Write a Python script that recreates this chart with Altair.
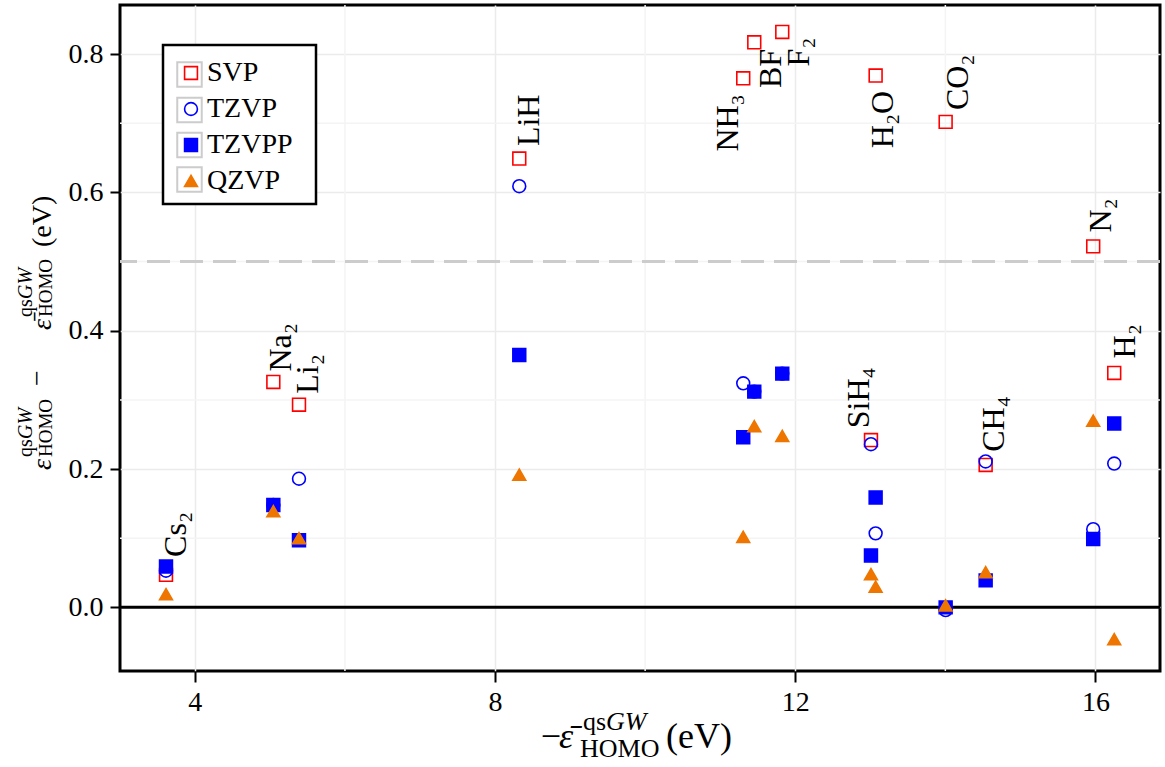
import altair as alt
import pandas as pd

SERIF = "Liberation Serif, DejaVu Serif, serif"

# ---------------- data ----------------
molecules = ["Cs2", "Na2", "Li2", "LiH", "NH3", "BF", "F2", "SiH4", "H2O", "CO2", "CH4", "N2", "H2"]
mol_labels = ["Cs₂", "Na₂", "Li₂", "LiH", "NH₃", "BF", "F₂", "SiH₄", "H₂O", "CO₂", "CH₄", "N₂", "H₂"]
homo = [3.616, 5.046, 5.388, 8.323, 11.307, 11.454, 11.827, 13.009, 13.071, 14.004, 14.537, 15.970, 16.250]

series = ["SVP", "TZVP", "TZVPP", "QZVP"]
svp = [0.047, 0.326, 0.293, 0.649, 0.765, 0.817, 0.832, 0.242, 0.769, 0.702, 0.206, 0.522, 0.339]
tzvp = [0.053, 0.148, 0.186, 0.609, 0.324, 0.312, 0.338, 0.236, 0.107, -0.004, 0.211, 0.113, 0.208]
tzvpp = [0.059, 0.148, 0.097, 0.365, 0.246, 0.312, 0.338, 0.075, 0.159, 0.000, 0.039, 0.099, 0.266]
qzvp = [0.019, 0.139, 0.100, 0.192, 0.102, 0.262, 0.248, 0.048, 0.030, 0.003, 0.051, 0.270, -0.046]

# where each molecule name sits (start of the rotated text)
label_x = [3.603, 5.002, 5.358, 8.310, 10.953, 11.530, 11.907, 12.706, 13.018, 14.017, 14.505, 15.927, 16.246]
label_y = [0.073, 0.341, 0.309, 0.667, 0.659, 0.751, 0.782, 0.259, 0.664, 0.719, 0.225, 0.542, 0.360]

x_ticks = [4, 8, 12, 16]
y_ticks = [0.0, 0.2, 0.4, 0.6, 0.8]
x_minor = [6, 10, 14]
y_minor = [0.1, 0.3, 0.5, 0.7]
ref_zero = [0.0]
ref_half = [0.5]

colors = ["#FF0000", "#0000FF", "#0000FF", "#EE7600"]
fills = ["transparent", "transparent", "#0000FF", "#EE7600"]
shapes = ["square", "circle", "square", "triangle-up"]
sizes = [165, 165, 150, 290]

# ---------------- tables ----------------
rows = []
for name, vals in zip(series, [svp, tzvp, tzvpp, qzvp]):
    for m, x, v in zip(molecules, homo, vals):
        rows.append({"molecule": m, "homo": x, "basis": name, "delta": v})
pts = pd.DataFrame(rows)
labs = pd.DataFrame({"name": mol_labels, "homo": label_x, "delta": label_y})

xs = alt.Scale(domain=[3.003, 16.86], nice=False, zero=False)
ys = alt.Scale(domain=[-0.092, 0.871], nice=False, zero=False)

common_axis = dict(
    title=None, domain=False, grid=True, gridColor="#EBEBEB", gridWidth=1.5,
    tickColor="black", tickWidth=2, labelFont=SERIF, labelFontSize=28,
    labelColor="black",
)
x_axis = alt.Axis(values=x_ticks, format="d", tickSize=11, labelPadding=6, **common_axis)
y_axis = alt.Axis(values=y_ticks, format=".1f", tickSize=10, labelPadding=7, **common_axis)

X = lambda: alt.X("homo:Q", scale=xs, axis=x_axis)
Y = lambda: alt.Y("delta:Q", scale=ys, axis=y_axis)

minor_x = alt.Chart(pd.DataFrame({"homo": x_minor})).mark_rule(
    color="#F4F4F4", strokeWidth=1.5).encode(x=X())
minor_y = alt.Chart(pd.DataFrame({"delta": y_minor})).mark_rule(
    color="#F4F4F4", strokeWidth=1.5).encode(y=Y())
dashed = alt.Chart(pd.DataFrame({"delta": ref_half})).mark_rule(
    color="#CCCCCC", strokeWidth=3, strokeDash=[23, 10]).encode(y=Y())
zero = alt.Chart(pd.DataFrame({"delta": ref_zero})).mark_rule(
    color="black", strokeWidth=3).encode(y=Y())

legend = alt.Legend(
    title=None, orient="none", legendX=43, legendY=41,
    padding=13, labelFont=SERIF, labelFontSize=28,
    labelColor="black", rowPadding=8, labelOffset=2, symbolOffset=1,
    symbolStrokeWidth=1.6,
)

points = alt.Chart(pts).mark_point(opacity=1, strokeWidth=1.6).encode(
    x=X(), y=Y(),
    color=alt.Color("basis:N", scale=alt.Scale(domain=series, range=colors), legend=legend),
    fill=alt.Fill("basis:N", scale=alt.Scale(domain=series, range=fills), legend=legend),
    shape=alt.Shape("basis:N", scale=alt.Scale(domain=series, range=shapes), legend=legend),
    size=alt.Size("basis:N", scale=alt.Scale(domain=series, range=sizes), legend=legend),
)

mol_text = alt.Chart(labs).mark_text(
    angle=270, align="left", baseline="top", dy=-4, font=SERIF, fontSize=32, color="black"
).encode(x=X(), y=Y(), text="name:N")

dummy = pd.DataFrame({"d": [0]})


def txt(s, px, py, size, angle=0, align="left", style="normal"):
    return alt.Chart(dummy).mark_text(
        text=s, font=SERIF, fontSize=size, angle=angle, align=align,
        baseline="alphabetic", fontStyle=style, color="black",
    ).encode(x=alt.value(px), y=alt.value(py))


# legend frame and key boxes (drawn beneath the legend entries)
legend_box = alt.Chart(dummy).mark_rect(
    fill="white", stroke="black", strokeWidth=2.5
).encode(x=alt.value(43), x2=alt.value(196), y=alt.value(40), y2=alt.value(199))


def keybox(py):
    return alt.Chart(dummy).mark_point(
        shape="square", size=600, filled=True, fill="white", stroke="#CCCCCC",
        strokeWidth=2, opacity=1,
    ).encode(x=alt.value(69.5), y=alt.value(py))


keys = [keybox(p) for p in (69.5, 105, 140, 174.5)]

# y-axis title (rotated)
ytitle = [
    txt("ε", -69, 465, 28, 270, style="italic"),
    txt("qs", -88, 452, 20, 270),
    txt("GW", -88, 434, 20, 270, style="italic"),
    txt("HOMO", -68, 452, 19, 270),
    txt("−", -74, 373, 28, 270, align="center"),
    txt("ε̄", -69, 325, 28, 270, style="italic"),
    txt("qs", -88, 312, 20, 270),
    txt("GW", -88, 294, 20, 270, style="italic"),
    txt("HOMO", -68, 312, 19, 270),
    txt("(eV)", -69, 242, 28, 270),
]
# x-axis title
xtitle = [
    txt("−", 431, 743, 36, align="center"),
    txt("ε̄", 439, 743, 36, style="italic"),
    txt("qs", 463, 725, 26),
    txt("GW", 486, 725, 26, style="italic"),
    txt("HOMO", 460, 752, 26),
    txt("(eV)", 546, 743, 36),
]

chart = alt.layer(
    minor_x, minor_y, dashed, zero, points, mol_text, legend_box, *keys, *ytitle, *xtitle
).properties(
    width=1040, height=666,
    padding={"left": 120, "right": 5, "top": 5, "bottom": 96},
    autosize=alt.AutoSizeParams(type="none"),
    background="white",
).configure_view(stroke="black", strokeWidth=3)

chart.save("out.html", embed_options={"renderer": "svg", "actions": False})
